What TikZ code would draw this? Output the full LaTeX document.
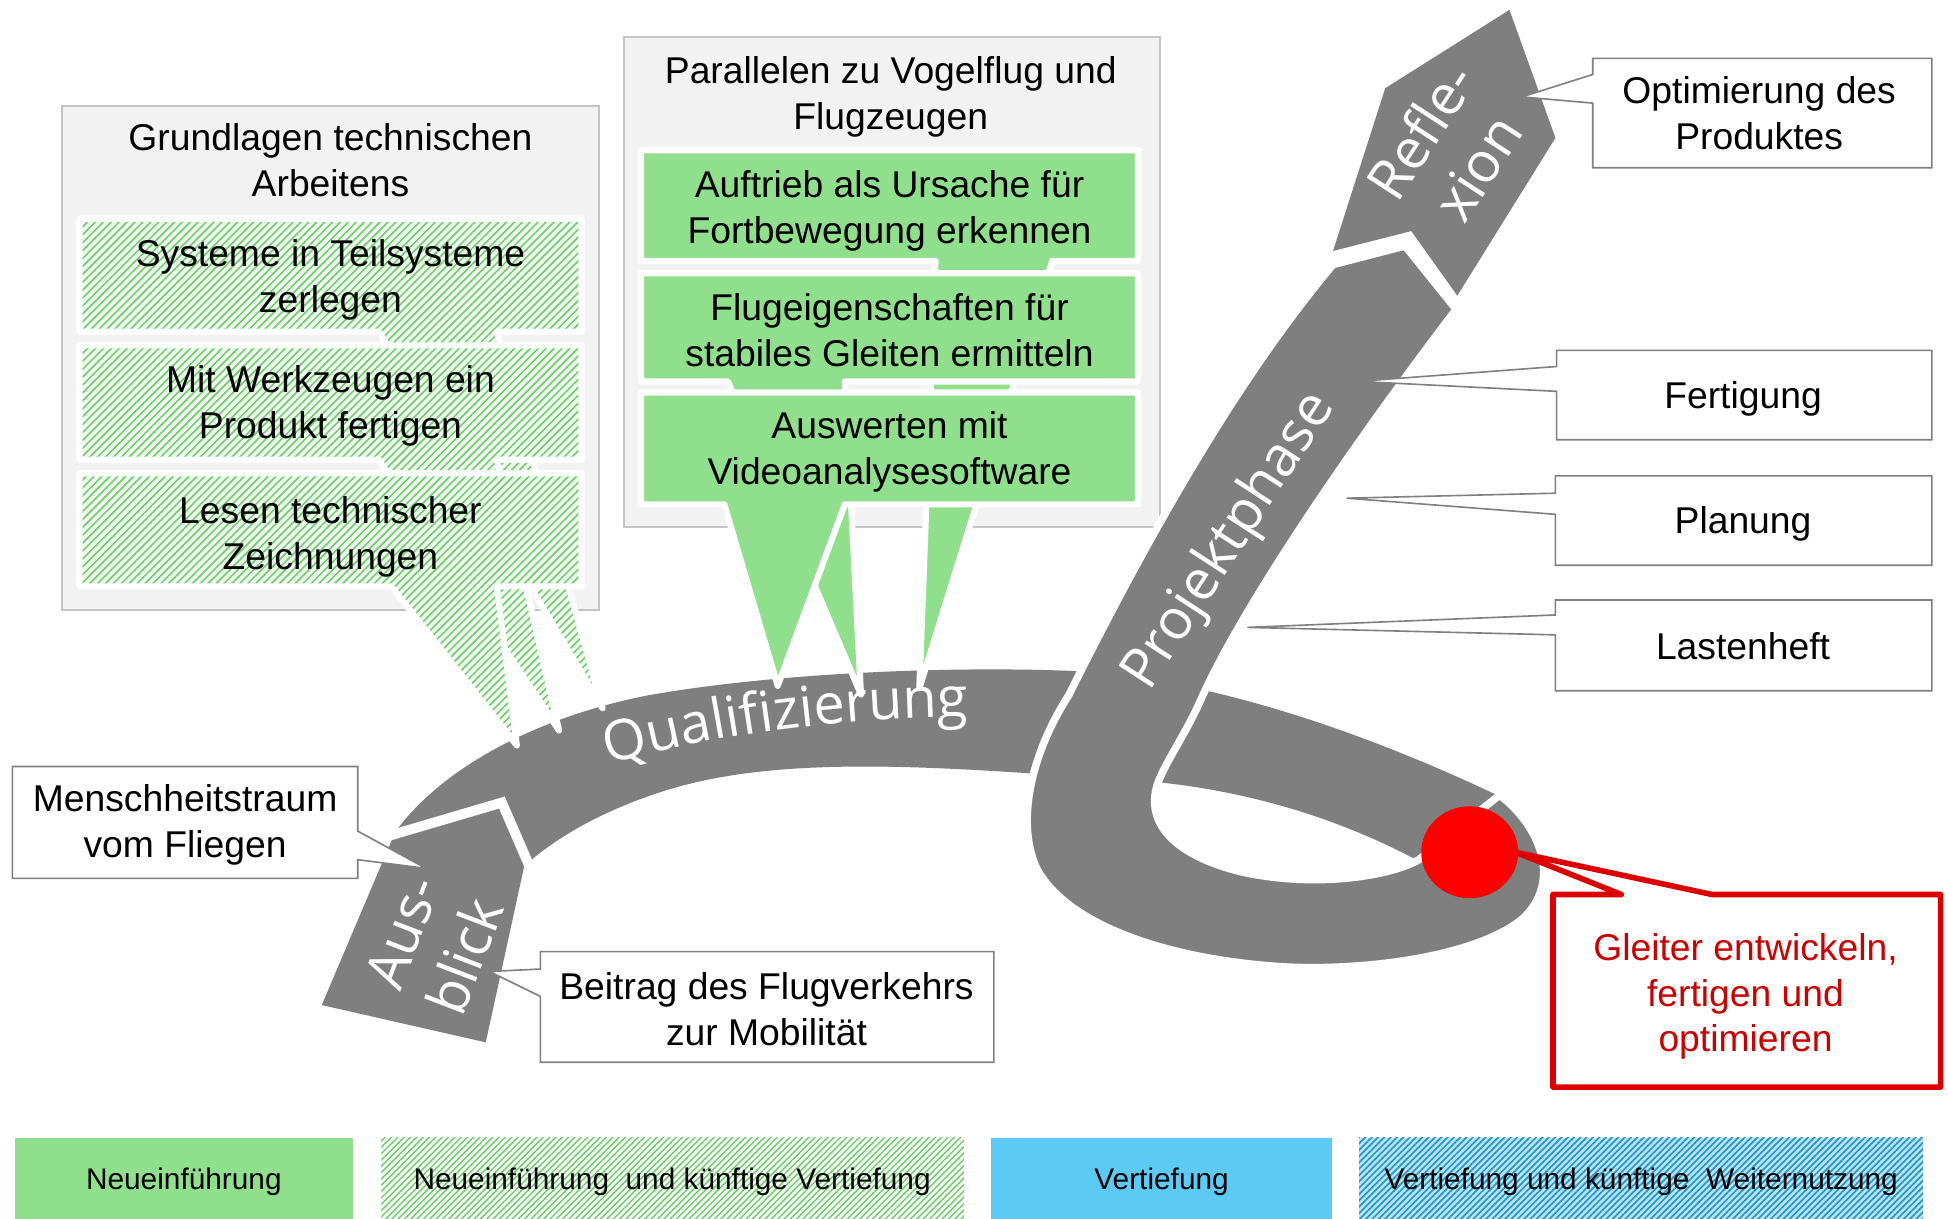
\documentclass[tikz,border=0pt]{standalone}
\usepackage{fontspec}
\setmainfont{Liberation Sans}
\newfontfamily\ribbonfont{Open Sans}
\usetikzlibrary{patterns.meta,decorations.text}

\definecolor{ribbon}{HTML}{7F7F7F}
\definecolor{boxgreen}{HTML}{90DF8C}
\definecolor{hatchgreen}{HTML}{6CCB68}
\definecolor{hatchbg}{HTML}{EEF9EE}
\definecolor{legendhatchbg}{HTML}{F4FBF4}
\definecolor{boxblue}{HTML}{5BCBF5}
\definecolor{hatchblue}{HTML}{2B96C4}
\definecolor{hatchbluebg}{HTML}{B5E6F9}
\definecolor{panelgray}{HTML}{F2F2F2}
\definecolor{panelline}{HTML}{C4C4C4}
\definecolor{calloutline}{HTML}{808080}
\definecolor{alertred}{HTML}{DD0000}
\definecolor{alerttext}{HTML}{CC0000}
\definecolor{dotred}{HTML}{FF0000}

\newcommand\boxtext{\fontsize{30}{37}\selectfont}
\newcommand\legendtext{\fontsize{24}{28}\selectfont}
\newcommand\bandtext{\ribbonfont\fontsize{45}{54}\selectfont}

\begin{document}
\begin{tikzpicture}[x=1pt,y=-1pt,
  panel/.style={fill=panelgray, draw=panelline, line width=1.5pt},
  hatchbox/.style={preaction={fill=hatchbg}, pattern={Lines[angle=45,distance=4.5pt,line width=1.2pt]}, pattern color=hatchgreen, draw=white, line width=5pt, line join=round},
  greenbox/.style={fill=boxgreen, draw=white, line width=5pt, line join=round},
  band/.style={fill=ribbon},
  bandcut/.style={fill=ribbon, draw=white, line width=6pt, line join=round},
  bandlabel/.style={font=\bandtext, text=white, align=center, inner sep=0pt},
  callout/.style={fill=white, draw=calloutline, line width=1.3pt, line join=miter},
  alertcallout/.style={fill=white, draw=alertred, line width=4.5pt, line join=round},
  lbl/.style={font=\boxtext, align=center, inner sep=0pt},
  legendlbl/.style={font=\legendtext, inner sep=0pt}
]
\useasboundingbox[fill=white] (0,0) rectangle (1568,981);

% grey panels
\draw[panel] (50,85) rectangle (482,491);
\draw[panel] (502,30) rectangle (934,424);

% ribbon: Ausblick + Qualifizierung, running on under the project phase into the loop
\path[band] (259,809) -- (318,670)
  .. controls (350,625) and (420,580) .. (520,560)
  .. controls (620,542) and (760,536) .. (862,540)
  .. controls (980,546) and (1110,595) .. (1205,640)
  -- (1140,692)
  .. controls (1070,655) and (990,632) .. (900,627)
  .. controls (780,620) and (640,605) .. (540,635)
  .. controls (490,650) and (450,672) .. (422,697)
  -- (391,839) -- cycle;
% cut between Ausblick and Qualifizierung
\draw[white, line width=8pt, line join=miter] (302,676) -- (404,646) -- (430,706);

% project phase with the loop
\path[bandcut] (1207,640)
  .. controls (1240,665) and (1258,710) .. (1225,740)
  .. controls (1185,772) and (1090,782) .. (1030,778)
  .. controls (940,772) and (860,745) .. (835,700)
  .. controls (818,665) and (828,610) .. (860,560)
  .. controls (930,420) and (1000,300) .. (1073,213)
  -- (1131,198) -- (1172,249)
  .. controls (1080,370) and (1000,490) .. (968,560)
  .. controls (955,590) and (940,610) .. (932,630)
  .. controls (920,665) and (950,690) .. (1000,702)
  .. controls (1060,715) and (1120,705) .. (1142,692)
  -- cycle;

% reflection arrow head
\path[band] (1215,8) -- (1252,111) -- (1173,238) -- (1136,186) -- (1073,202) -- (1115,71) -- cycle;

% ribbon labels
\path[decorate, decoration={text along path, text={|\bandtext|Qualifizierung}, text align=center, text color=white}]
  (470,622) .. controls (560,592) and (680,576) .. (800,577);
\node[bandlabel, rotate=57] (proj) at (990,436) {Projektphase};
\node[bandlabel, rotate=57] (refl) at (1166,120) {Refle-\\xion};
\node[bandlabel, rotate=69] (ausb) at (349,760) {Aus-\\blick};

% hatched items with their pointers
\path[hatchbox] (64,176) -- (468,176) -- (468,267) -- (400,267) -- (485,570) -- (305,267) -- (64,267) -- cycle;
\path[hatchbox] (64,278) -- (468,278) -- (468,370) -- (400,370) -- (450,588) -- (305,370) -- (64,370) -- cycle;
\path[hatchbox] (64,381) -- (468,381) -- (468,472) -- (400,472) -- (416,600) -- (315,472) -- (64,472) -- cycle;

% green items with their pointers
\path[greenbox] (516,121) -- (916,121) -- (916,210) -- (847,210) -- (740,554) -- (753,210) -- (516,210) -- cycle;
\path[greenbox] (516,220) -- (916,220) -- (916,307) -- (680,307) -- (693,559) -- (586,307) -- (516,307) -- cycle;
\path[greenbox] (516,316) -- (916,316) -- (916,406) -- (680,406) -- (626,552) -- (583,406) -- (516,406) -- cycle;

% panel texts
\node[lbl] (g0) at (266,129) {Grundlagen technischen\\Arbeitens};
\node[lbl] (g1) at (266,225) {Systeme in Teilsysteme\\zerlegen};
\node[lbl] (g2) at (266,327) {Mit Werkzeugen ein\\Produkt fertigen};
\node[lbl] (g3) at (266,432) {Lesen technischer\\Zeichnungen};
\node[lbl] (p0) at (717,78) {Parallelen zu Vogelflug und\\Flugzeugen};
\node[lbl] (p1) at (716,170) {Auftrieb als Ursache für\\Fortbewegung erkennen};
\node[lbl] (p2) at (716,266) {Flugeigenschaften für\\stabiles Gleiten ermitteln};
\node[lbl] (p3) at (716,364) {Auswerten mit\\Videoanalysesoftware};

% white callouts
\path[callout] (1282,47) -- (1555,47) -- (1555,135) -- (1282,135) -- (1282,83) -- (1225,78) -- (1282,60) -- cycle;
\path[callout] (1253,282) -- (1555,282) -- (1555,354) -- (1253,354) -- (1253,315) -- (1093,307) -- (1253,295) -- cycle;
\path[callout] (1252,383) -- (1555,383) -- (1555,455) -- (1252,455) -- (1252,414) -- (1084,401) -- (1252,397) -- cycle;
\path[callout] (1252,483) -- (1555,483) -- (1555,556) -- (1252,556) -- (1252,511) -- (1004,505) -- (1252,495) -- cycle;
\path[callout] (10,617) -- (288,617) -- (288,669) -- (343,699) -- (288,692) -- (288,707) -- (10,707) -- cycle;
\path[callout] (435,766) -- (800,766) -- (800,855) -- (435,855) -- (435,802) -- (394,782) -- (435,780) -- cycle;

\node[lbl] (opt) at (1416,91) {Optimierung des\\Produktes};
\node[lbl] (fer) at (1403,321) {Fertigung};
\node[lbl] (pla) at (1403,422) {Planung};
\node[lbl] (las) at (1403,520) {Lastenheft};
\node[lbl] (men) at (149,664) {Menschheitstraum\\vom Fliegen};
\node[lbl] (bei) at (617,812) {Beitrag des Flugverkehrs\\zur Mobilität};

% highlighted task
\path[alertcallout] (1250,720) -- (1305,720) -- (1220,686) -- (1378,720) -- (1562,720) -- (1562,875) -- (1250,875) -- cycle;
\fill[dotred] (1183,686) ellipse [x radius=39pt, y radius=37pt];
\node[lbl, text=alerttext] (gle) at (1405,802) {Gleiter entwickeln,\\fertigen und\\optimieren};

% legend
\fill[boxgreen] (12,916) rectangle (284,981);
\path[preaction={fill=legendhatchbg}, pattern={Lines[angle=45,distance=3.6pt,line width=1.1pt]}, pattern color=hatchgreen] (307,916) rectangle (776,981);
\fill[boxblue] (798,916) rectangle (1072,981);
\path[preaction={fill=hatchbluebg}, pattern={Lines[angle=45,distance=3.6pt,line width=1.4pt]}, pattern color=hatchblue] (1094,916) rectangle (1548,981);
\node[legendlbl] (l1) at (148,951) {Neueinführung};
\node[legendlbl] (l2) at (541,951) {Neueinführung\ \ und künftige Vertiefung};
\node[legendlbl] (l3) at (935,951) {Vertiefung};
\node[legendlbl] (l4) at (1321,951) {Vertiefung und künftige\ \ Weiternutzung};
\end{tikzpicture}
\end{document}
